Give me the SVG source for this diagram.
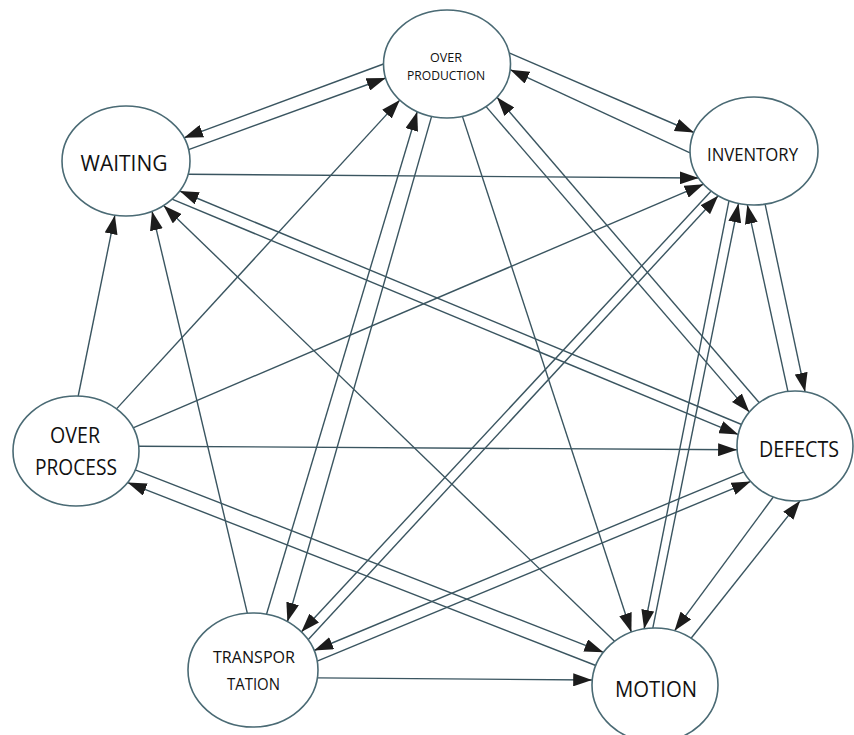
<svg xmlns="http://www.w3.org/2000/svg" width="854" height="735" viewBox="0 0 854 735">
<style>
.e{stroke:#3a5560;stroke-width:1.4;fill:none;marker-end:url(#a)}
.n{fill:#fff;stroke:#4a6a74;stroke-width:1.6}
.t{font-family:"Open Sans","Liberation Sans",sans-serif;fill:#111;text-anchor:middle}
</style>
<defs>
<marker id="a" viewBox="0 0 19 13" refX="19" refY="6.5" markerWidth="19" markerHeight="13" markerUnits="userSpaceOnUse" orient="auto">
<path d="M0,0 L19,6.5 L0,13 z" fill="#1c1c1c"/>
</marker>
</defs>
<rect width="854" height="735" fill="#fff"/>
<g id="connectors">
<line class="e" x1="383.5" y1="64" x2="184" y2="137.8"/>
<line class="e" x1="188.6" y1="149.6" x2="385.7" y2="78"/>
<line class="e" x1="509.1" y1="52.8" x2="693.9" y2="132.5"/>
<line class="e" x1="690" y1="152.9" x2="510.2" y2="69.7"/>
<line class="e" x1="116.5" y1="408.9" x2="399.8" y2="100.1"/>
<line class="e" x1="266.5" y1="614.3" x2="417.2" y2="111.7"/>
<line class="e" x1="431.6" y1="116.4" x2="287.4" y2="621.7"/>
<line class="e" x1="462.4" y1="116.4" x2="631.4" y2="632.2"/>
<line class="e" x1="486.1" y1="106.6" x2="749.3" y2="412.1"/>
<line class="e" x1="759.3" y1="402.7" x2="497" y2="97.3"/>
<line class="e" x1="188.1" y1="174.3" x2="698.6" y2="178"/>
<line class="e" x1="741.6" y1="424.5" x2="179.7" y2="191"/>
<line class="e" x1="172" y1="199.2" x2="738.3" y2="434.6"/>
<line class="e" x1="614.5" y1="641.3" x2="163.6" y2="205.5"/>
<line class="e" x1="78.2" y1="396" x2="114.9" y2="215.2"/>
<line class="e" x1="247.3" y1="613.2" x2="152" y2="211.3"/>
<line class="e" x1="133.1" y1="427.8" x2="703.6" y2="184.2"/>
<line class="e" x1="138.8" y1="446.2" x2="737.1" y2="449.8"/>
<line class="e" x1="135.2" y1="469.8" x2="603.4" y2="652.3"/>
<line class="e" x1="595.8" y1="665.5" x2="127.6" y2="482.6"/>
<line class="e" x1="317.4" y1="677.9" x2="592.2" y2="680"/>
<line class="e" x1="308.1" y1="639.8" x2="718.2" y2="195.8"/>
<line class="e" x1="711.2" y1="191.1" x2="301.3" y2="631.9"/>
<line class="e" x1="317.2" y1="661.1" x2="750.6" y2="481.4"/>
<line class="e" x1="743.8" y1="471.8" x2="314.1" y2="650.5"/>
<line class="e" x1="773.3" y1="497" x2="674.5" y2="630.8"/>
<line class="e" x1="691.1" y1="638.3" x2="800.1" y2="500.8"/>
<line class="e" x1="729" y1="200.7" x2="644.1" y2="628.9"/>
<line class="e" x1="652.8" y1="628.1" x2="738.5" y2="203.4"/>
<line class="e" x1="765.1" y1="204.2" x2="805.1" y2="391.8"/>
<line class="e" x1="787.9" y1="391.4" x2="747.3" y2="204.7"/>
</g>
<g id="node-overproduction">
<ellipse class="n" cx="447" cy="64" rx="63.5" ry="54"/>
<text class="t" x="446" y="62" font-size="13" textLength="32" lengthAdjust="spacingAndGlyphs">OVER</text>
<text class="t" x="446" y="80" font-size="13" textLength="78" lengthAdjust="spacingAndGlyphs">PRODUCTION</text>
</g>
<g id="node-waiting">
<ellipse class="n" cx="126" cy="161" rx="64" ry="55"/>
<text class="t" x="124" y="171" font-size="22" textLength="87" lengthAdjust="spacingAndGlyphs">WAITING</text>
</g>
<g id="node-inventory">
<ellipse class="n" cx="754" cy="151" rx="64" ry="54"/>
<text class="t" x="752.5" y="161" font-size="18" textLength="91" lengthAdjust="spacingAndGlyphs">INVENTORY</text>
</g>
<g id="node-overprocess">
<ellipse class="n" cx="76" cy="451" rx="63" ry="55"/>
<text class="t" x="75" y="443" font-size="21" textLength="50" lengthAdjust="spacingAndGlyphs">OVER</text>
<text class="t" x="76" y="475" font-size="21" textLength="82" lengthAdjust="spacingAndGlyphs">PROCESS</text>
</g>
<g id="node-defects">
<ellipse class="n" cx="795" cy="446" rx="58" ry="55"/>
<text class="t" x="799" y="457" font-size="21" textLength="80" lengthAdjust="spacingAndGlyphs">DEFECTS</text>
</g>
<g id="node-transportation">
<ellipse class="n" cx="253" cy="670" rx="65" ry="57"/>
<text class="t" x="254" y="663" font-size="16" textLength="82" lengthAdjust="spacingAndGlyphs">TRANSPOR</text>
<text class="t" x="253.5" y="690" font-size="16" textLength="53" lengthAdjust="spacingAndGlyphs">TATION</text>
</g>
<g id="node-motion">
<ellipse class="n" cx="655" cy="685" rx="63" ry="57"/>
<text class="t" x="656" y="697" font-size="22" textLength="82" lengthAdjust="spacingAndGlyphs">MOTION</text>
</g>
</svg>
